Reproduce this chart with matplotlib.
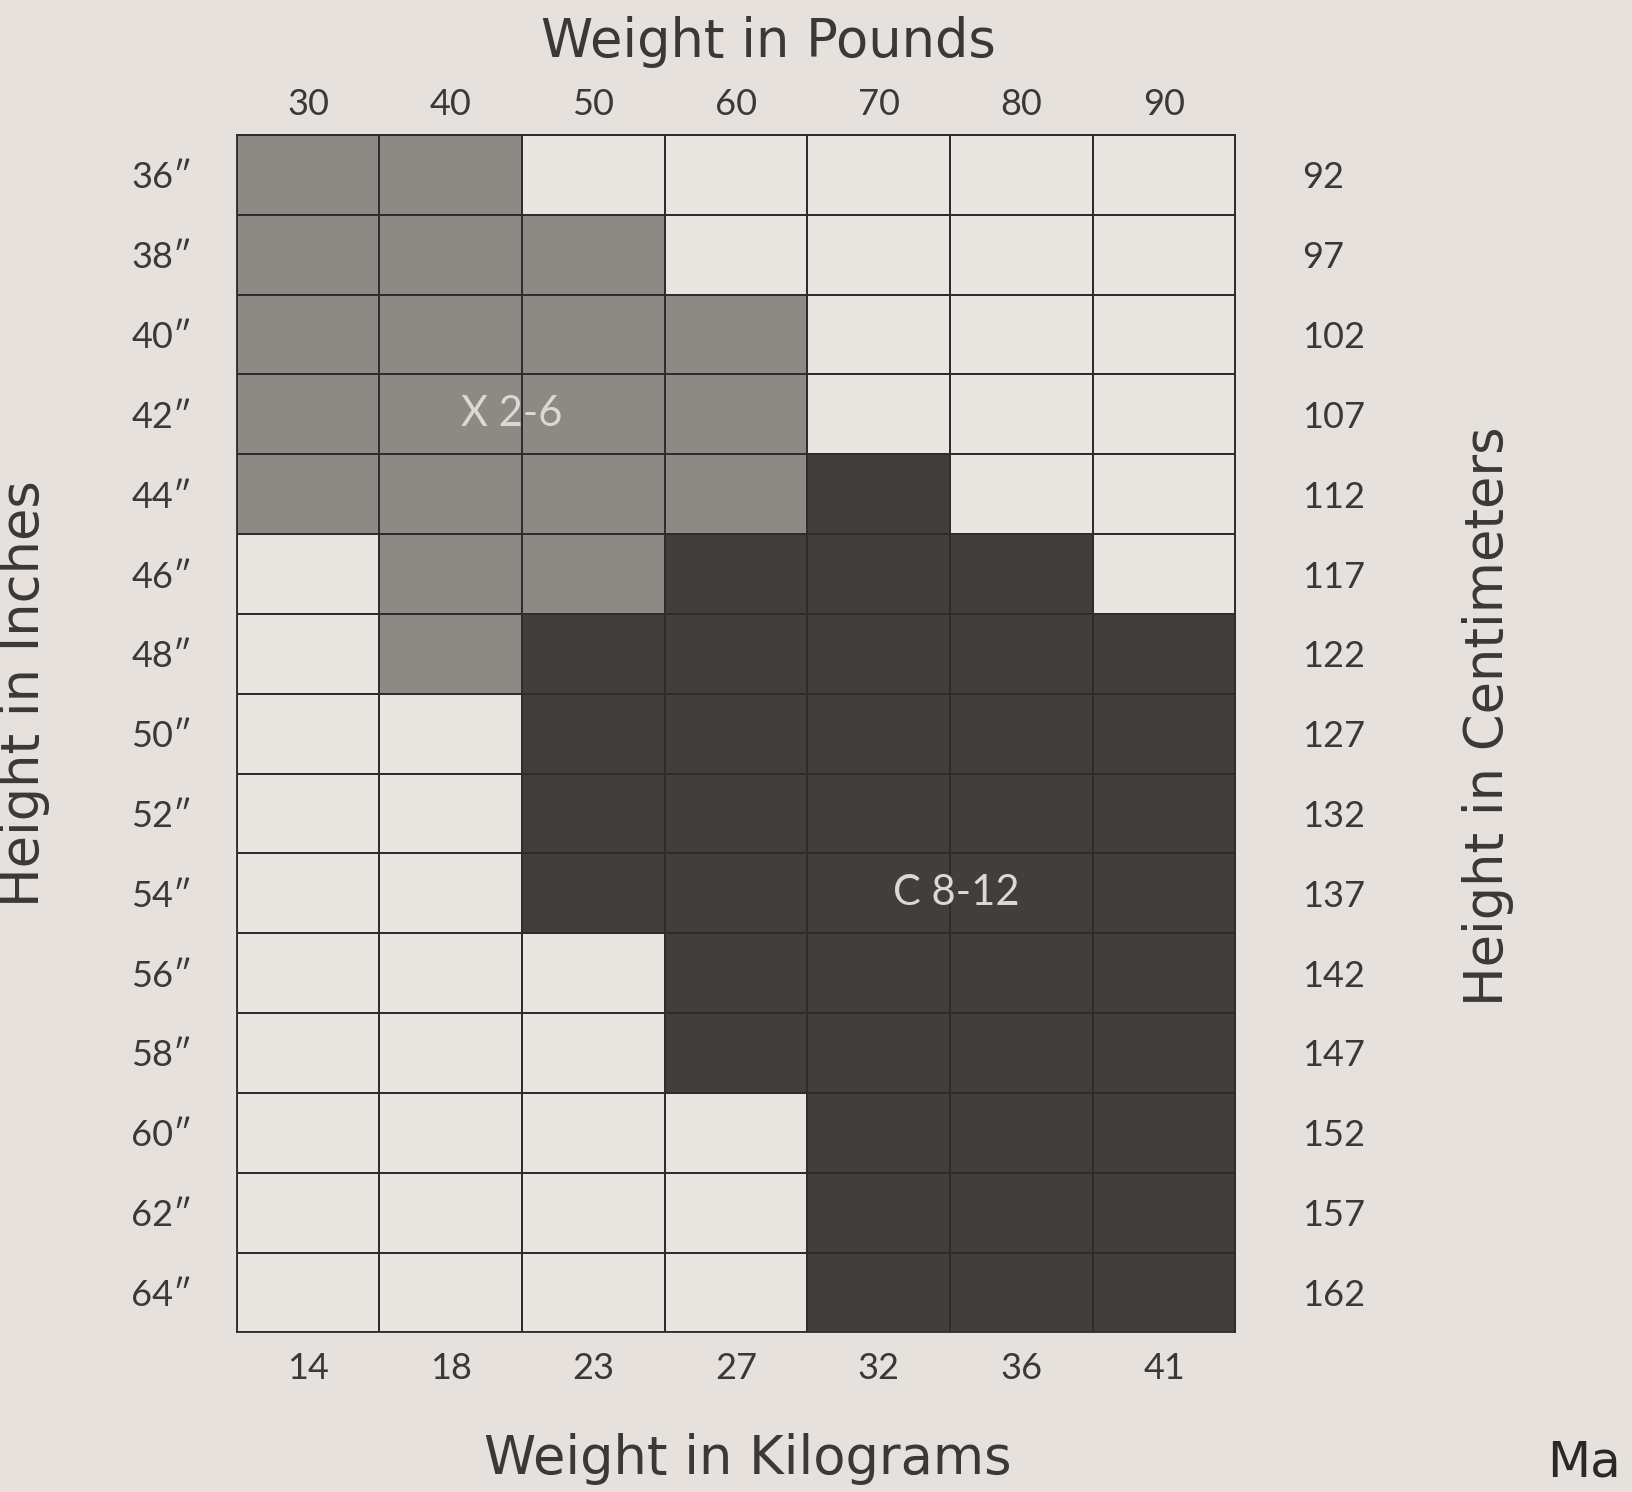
import numpy as np
import matplotlib
matplotlib.use("Agg")
import matplotlib.pyplot as plt
from matplotlib.colors import ListedColormap

plt.rcParams['font.family'] = ['Lato', 'DejaVu Sans']

# Chart data
weights_lb = [30, 40, 50, 60, 70, 80, 90]
weights_kg = [14, 18, 23, 27, 32, 36, 41]
heights_in = [36, 38, 40, 42, 44, 46, 48, 50, 52, 54, 56, 58, 60, 62, 64]
heights_cm = [92, 97, 102, 107, 112, 117, 122, 127, 132, 137, 142, 147, 152, 157, 162]

# 0 = no size, 1 = X 2-6, 2 = C 8-12 (rows top to bottom, columns 30..90 lb)
sizes = [
    [1, 1, 0, 0, 0, 0, 0],
    [1, 1, 1, 0, 0, 0, 0],
    [1, 1, 1, 1, 0, 0, 0],
    [1, 1, 1, 1, 0, 0, 0],
    [1, 1, 1, 1, 2, 0, 0],
    [0, 1, 1, 2, 2, 2, 0],
    [0, 1, 2, 2, 2, 2, 2],
    [0, 0, 2, 2, 2, 2, 2],
    [0, 0, 2, 2, 2, 2, 2],
    [0, 0, 2, 2, 2, 2, 2],
    [0, 0, 0, 2, 2, 2, 2],
    [0, 0, 0, 2, 2, 2, 2],
    [0, 0, 0, 0, 2, 2, 2],
    [0, 0, 0, 0, 2, 2, 2],
    [0, 0, 0, 0, 2, 2, 2],
]
size_labels = ["X 2-6", "C 8-12"]
label_cells = [(1.93, 3.5), (5.04, 9.5)]  # (column, row) in grid units

paper = "#e6e1dc"
colors = ["#e9e6e1", "#8d8a86", "#403f3c"]
ink = "#3a3937"
title_font = ["DejaVu Sans"]

fig = plt.figure(figsize=(16.32, 14.92), dpi=100, facecolor=paper)
ax = fig.add_axes([0.145, 0.107, 0.612, 0.8025])
ax.set_facecolor(paper)

cmap = ListedColormap(colors)
ax.pcolormesh(np.array(sizes), cmap=cmap, vmin=-0.5, vmax=2.5,
              edgecolors="#2e2d2b", linewidth=1.3)
ax.set_xlim(0, len(weights_lb))
ax.set_ylim(len(heights_in), 0)

for name, (cx, cy) in zip(size_labels, label_cells):
    ax.text(cx, cy, name, ha="center", va="center", fontsize=30,
            color="#dcd9d2")

# bottom (kg) and left (inches) ticks
ax.set_xticks(np.arange(len(weights_kg)) + 0.5, [str(k) for k in weights_kg])
ax.set_yticks(np.arange(len(heights_in)) + 0.5, [f"{h}\u2033" for h in heights_in])
ax.tick_params(length=0, labelsize=26, labelcolor=ink)
ax.tick_params(axis="x", pad=14)
ax.tick_params(axis="y", pad=32)

# top (lb) and right (cm) ticks
top = ax.secondary_xaxis("top")
top.set_xticks(np.arange(len(weights_lb)) + 0.5, [str(w) for w in weights_lb])
top.tick_params(length=0, labelsize=26, labelcolor=ink, pad=10)
right = ax.secondary_yaxis("right")
right.set_yticks(np.arange(len(heights_cm)) + 0.5, [str(c) for c in heights_cm])
right.tick_params(length=0, labelsize=26, labelcolor=ink, pad=48)
for a in (ax, top, right):
    for s in a.spines.values():
        s.set_color("#2e2d2b")
        s.set_linewidth(1.3)

# axis titles
fig.text(0.471, 0.972, "Weight in Pounds", ha="center", va="center",
         fontsize=38, color=ink, family=title_font)
fig.text(0.458, 0.022, "Weight in Kilograms", ha="center", va="center",
         fontsize=38, color=ink, family=title_font)
fig.text(0.912, 0.52, "Height in Centimeters", ha="center", va="center",
         rotation=90, fontsize=38, color=ink, family=title_font)
fig.text(0.015, 0.535, "Height in Inches", ha="center", va="center",
         rotation=90, fontsize=38, color=ink, family=title_font)
fig.text(0.948, 0.004, "Ma", ha="left", va="bottom", fontsize=36,
         color="#2a2927", family=title_font)

fig.savefig("out.png", dpi=100, facecolor=paper)
